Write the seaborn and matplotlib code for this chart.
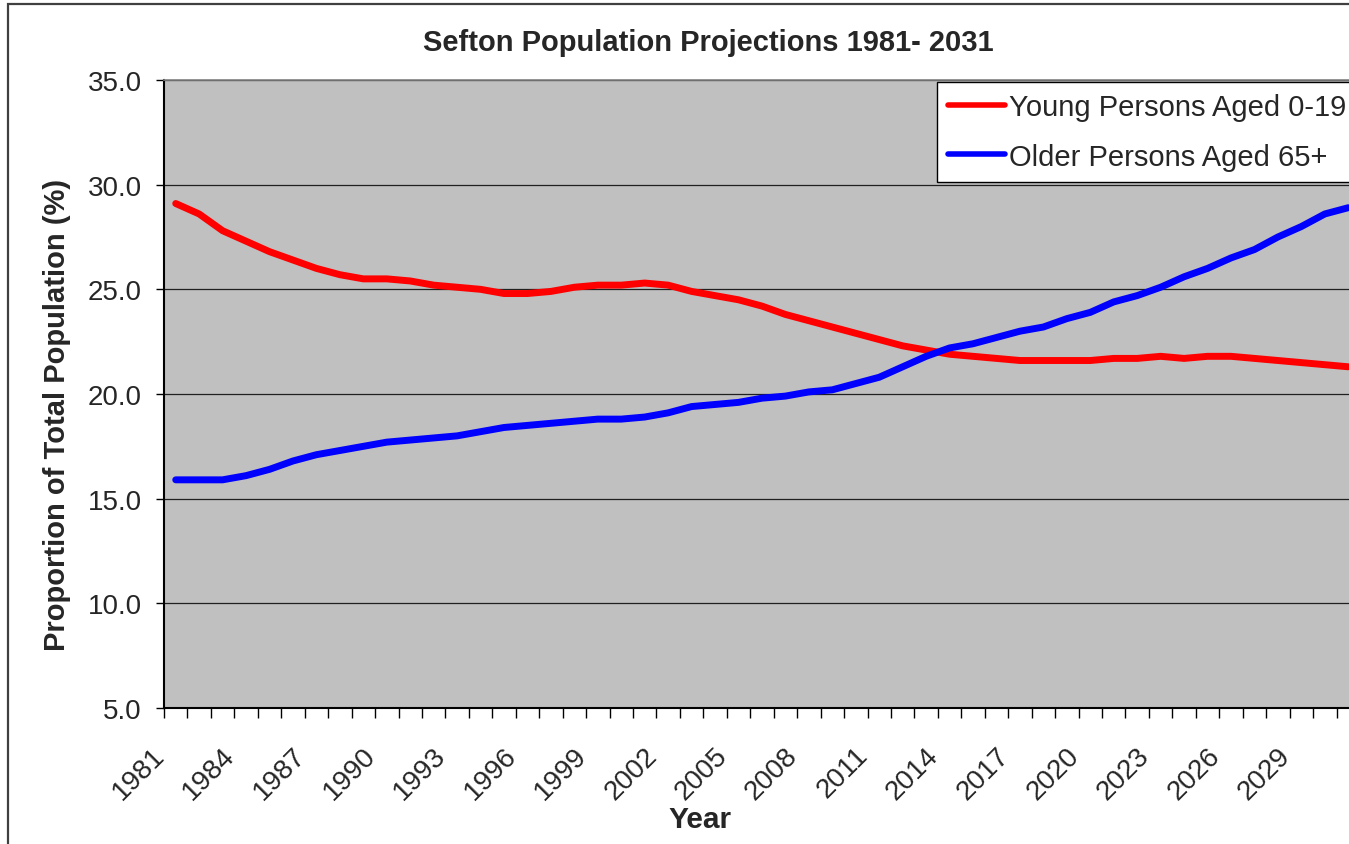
import matplotlib
matplotlib.use("Agg")
import matplotlib.pyplot as plt
import matplotlib.transforms as mtransforms
from matplotlib.patches import Rectangle
from matplotlib.ticker import FixedLocator, FixedFormatter, MultipleLocator, FormatStrFormatter
import seaborn as sns
import pandas as pd

# ---------------- data ----------------
years = list(range(1981, 2032))
young_0_19 = [29.1, 28.6, 27.8, 27.3, 26.8, 26.4, 26.0, 25.7, 25.5, 25.5,
              25.4, 25.2, 25.1, 25.0, 24.8, 24.8, 24.9, 25.1, 25.2, 25.2,
              25.3, 25.2, 24.9, 24.7, 24.5, 24.2, 23.8, 23.5, 23.2, 22.9,
              22.6, 22.3, 22.1, 21.9, 21.8, 21.7, 21.6, 21.6, 21.6, 21.6,
              21.7, 21.7, 21.8, 21.7, 21.8, 21.8, 21.7, 21.6, 21.5, 21.4, 21.3]
older_65_plus = [15.9, 15.9, 15.9, 16.1, 16.4, 16.8, 17.1, 17.3, 17.5, 17.7,
                 17.8, 17.9, 18.0, 18.2, 18.4, 18.5, 18.6, 18.7, 18.8, 18.8,
                 18.9, 19.1, 19.4, 19.5, 19.6, 19.8, 19.9, 20.1, 20.2, 20.5,
                 20.8, 21.3, 21.8, 22.2, 22.4, 22.7, 23.0, 23.2, 23.6, 23.9,
                 24.4, 24.7, 25.1, 25.6, 26.0, 26.5, 26.9, 27.5, 28.0, 28.6, 28.9]
series_names = ["Young Persons Aged 0-19", "Older Persons Aged 65+"]
series_colors = ["#FF0000", "#0000FF"]
label_years = years[::3]

# ---------------- build table ----------------
idx = list(range(len(years)))
df = pd.concat([
    pd.DataFrame({"idx": idx, "year": years, "value": young_0_19, "series": series_names[0]}),
    pd.DataFrame({"idx": idx, "year": years, "value": older_65_plus, "series": series_names[1]}),
], ignore_index=True)

sns.set_style("white")
plt.rcParams["font.family"] = ["Liberation Sans", "DejaVu Sans"]

W, H = 1349, 845
fig = plt.figure(figsize=(W / 100, H / 100), dpi=100)
fig.patch.set_facecolor("white")

# plot area (extends past the right edge like the reference crop)
left_px, top_px, bottom_px, right_px = 164, 81, 709, 1360
ax = fig.add_axes([left_px / W, 1 - bottom_px / H,
                   (right_px - left_px) / W, (bottom_px - top_px) / H])
ax.set_facecolor("#C0C0C0")

sns.lineplot(data=df, x="idx", y="value", hue="series", palette=series_colors,
             hue_order=series_names, linewidth=5, ax=ax, sort=False,
             solid_capstyle="round", solid_joinstyle="round")

ax.set_xlim(-0.5, len(years) - 0.5)
ax.set_ylim(5, 35)

# y axis
ax.yaxis.set_major_locator(MultipleLocator(5))
ax.yaxis.set_major_formatter(FormatStrFormatter("%.1f"))
ax.tick_params(axis="y", which="major", direction="out", length=6, width=1,
               color="black", pad=10, labelsize=20, left=True)
ax.grid(axis="y", color="#202020", linewidth=0.9)
ax.grid(axis="x", visible=False)
ax.set_axisbelow(True)

# x axis: ticks at category boundaries, labels every 3rd category
ax.xaxis.set_minor_locator(FixedLocator([i - 0.5 for i in range(len(years) + 1)]))
ax.xaxis.set_major_locator(FixedLocator(idx[::3]))
ax.xaxis.set_major_formatter(FixedFormatter([str(y) for y in label_years]))
ax.tick_params(axis="x", which="minor", direction="out", length=7, width=1,
               color="black", bottom=True)
ax.tick_params(axis="x", which="major", length=0, pad=31, labelsize=20, bottom=True)
offset = mtransforms.ScaledTranslation(-15 / 100, 0, fig.dpi_scale_trans)
for lab in ax.get_xticklabels():
    lab.set_rotation(45)
    lab.set_ha("right")
    lab.set_va("center")
    lab.set_rotation_mode("anchor")
    lab.set_transform(lab.get_transform() + offset)

for s in ["left", "bottom"]:
    ax.spines[s].set_color("black")
    ax.spines[s].set_linewidth(1.5)
ax.spines["top"].set_color("#808080")
ax.spines["top"].set_linewidth(1.2)
ax.spines["right"].set_visible(False)

# labels
ax.set_xlabel("Year", fontsize=21.5, fontweight="bold")
ax.xaxis.label.set_va("center")
ax.xaxis.set_label_coords((700 - left_px) / (right_px - left_px),
                          (bottom_px - 820) / (bottom_px - top_px))
ax.set_ylabel("Proportion of Total Population (%)", fontsize=21, fontweight="bold")
ax.yaxis.label.set_va("center")
ax.yaxis.set_label_coords((57 - left_px) / (right_px - left_px),
                          (bottom_px - 415) / (bottom_px - top_px))
ax.set_title("Sefton Population Projections 1981- 2031", fontsize=21,
             fontweight="bold", x=(708 - left_px) / (right_px - left_px),
             y=(bottom_px - 43) / (bottom_px - top_px), va="center", pad=0)

# legend
leg = ax.legend(loc="upper left", bbox_to_anchor=(937 / W, 1 - 83 / H),
                bbox_transform=fig.transFigure, fontsize=21, frameon=True,
                fancybox=False, shadow=False, framealpha=1, edgecolor="black",
                borderaxespad=0, borderpad=0.38, handlelength=1.95,
                handletextpad=0.15, labelspacing=0.74, title=None)
leg.get_frame().set_linewidth(1.0)
for h in leg.get_lines():
    h.set_linewidth(4)

# outer chart border
fig.patches.append(Rectangle((8 / W, -0.1), 1.2, (1 - 5 / H) + 0.1,
                             transform=fig.transFigure, fill=False,
                             edgecolor="#404040", linewidth=1.6))

fig.savefig("out.png", dpi=100)
